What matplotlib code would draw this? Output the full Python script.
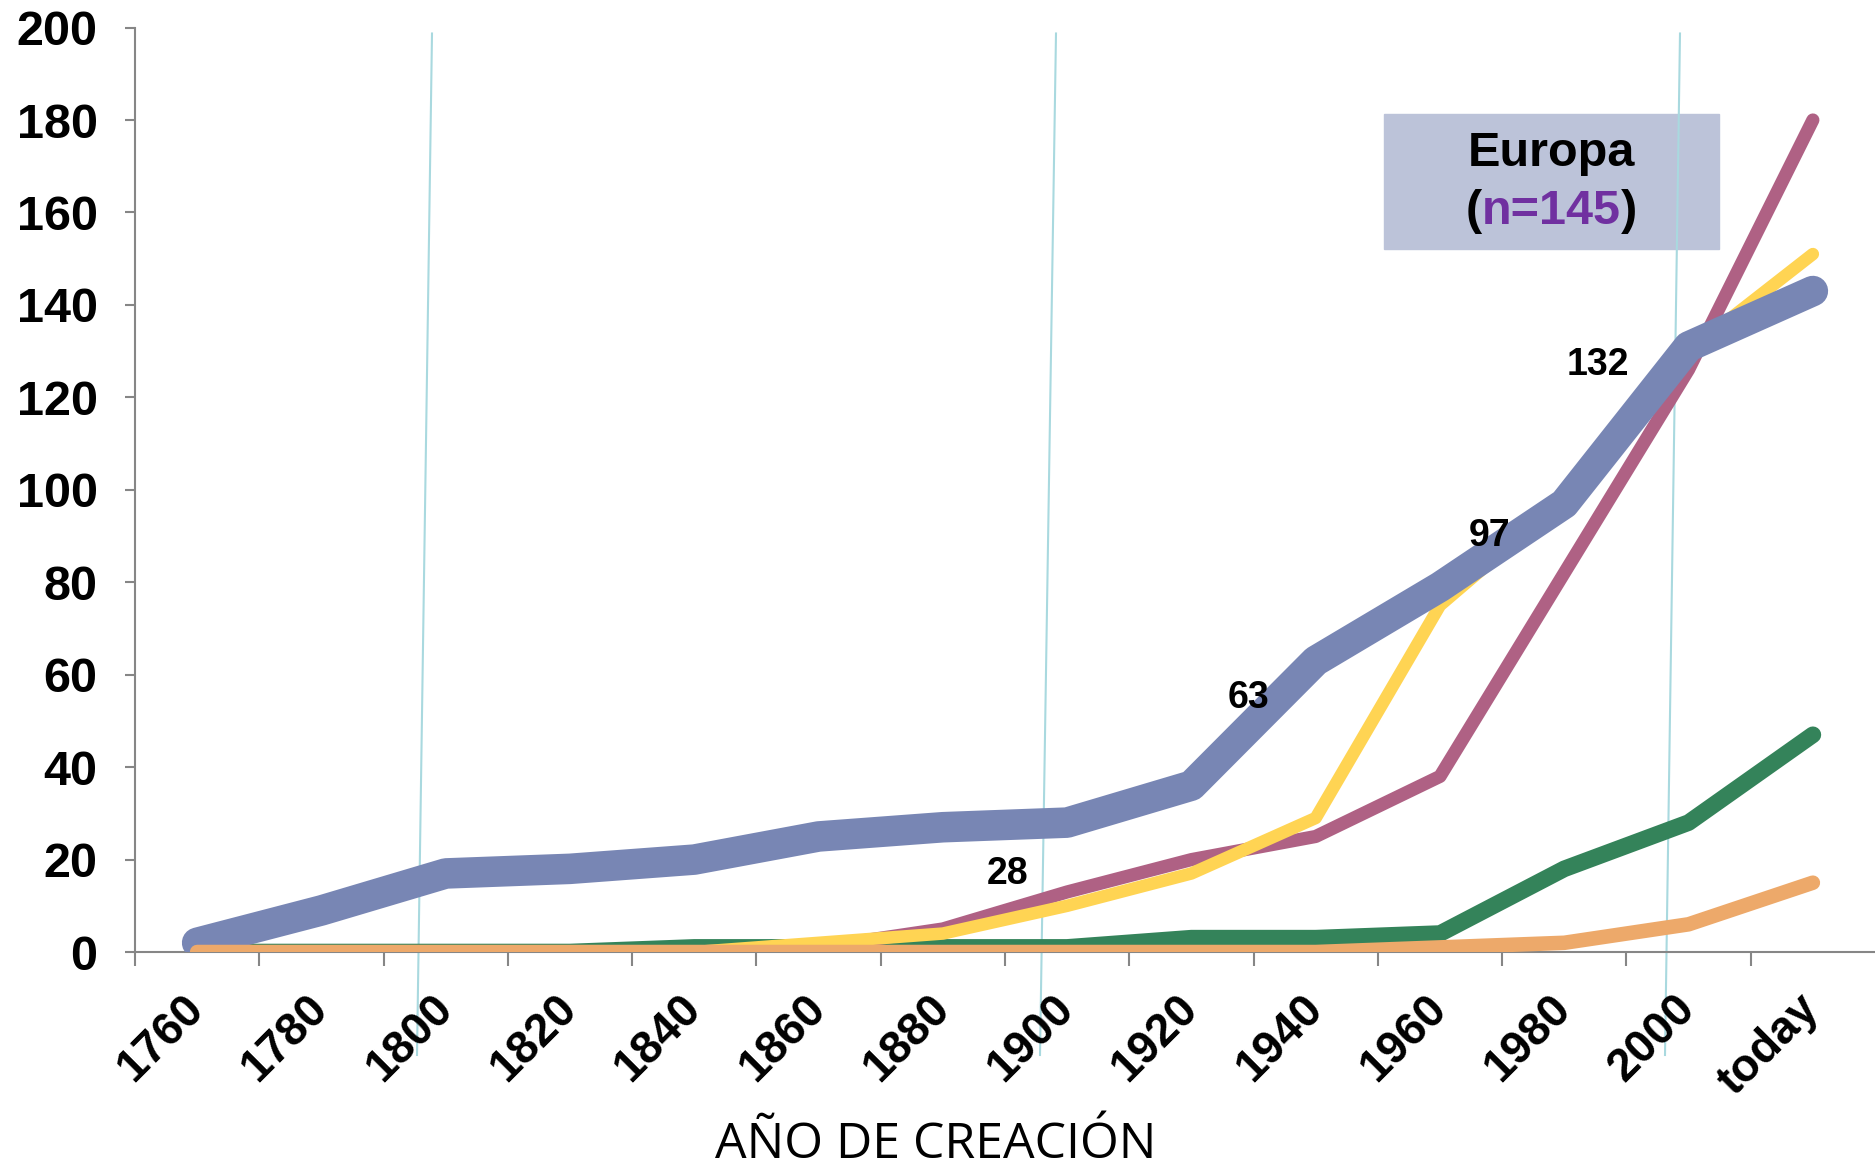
import matplotlib.pyplot as plt
import numpy as np

# categories on the x axis
years = ["1760", "1780", "1800", "1820", "1840", "1860", "1880",
         "1900", "1920", "1940", "1960", "1980", "2000", "today"]

# cumulative counts per series
total = [2, 9, 17, 18, 20, 25, 27, 28, 36, 63, 79, 97, 131, 143]
purple = [0, 0, 0, 0, 0, 1, 5, 13, 20, 25, 38, 82, 126, 180]
yellow = [0, 0, 0, 0, 0, 2, 4, 10, 17, 29, 75, 98, 130, 151]
green = [0, 0, 0, 0, 1, 1, 1, 1, 3, 3, 4, 18, 28, 47]
orange = [0, 0, 0, 0, 0, 0, 0, 0, 0, 0, 1, 2, 6, 15]

# labels on the total line
label_text = ["28", "63", "97", "132"]
label_x = [6.52, 8.46, 10.4, 11.27]
label_y = [16.8, 55, 90, 127]

plt.rcParams['font.family'] = ['Liberation Sans', 'DejaVu Sans']

fig = plt.figure(figsize=(18.75, 11.68), dpi=100)
ax = fig.add_axes([0.072, 0.1849, 0.928, 0.7915])
ax.set_facecolor("none")

x = np.arange(len(years))
ax.plot(x, green, color="#34835A", lw=12, solid_capstyle="round", zorder=2)
ax.plot(x, purple, color="#AF6184", lw=9.5, solid_capstyle="round", zorder=3)
ax.plot(x, yellow, color="#FFD453", lw=9, solid_capstyle="round", zorder=4)
ax.plot(x, total, color="#7886B4", lw=22, solid_capstyle="round", zorder=5)
ax.plot(x, orange, color="#EDA96A", lw=10.5, solid_capstyle="round", zorder=6)

for t, lx, ly in zip(label_text, label_x, label_y):
    ax.text(lx, ly, t, fontsize=27, fontweight="bold", ha="center", va="center", zorder=7)

ax.set_xlim(-0.5, len(years) - 0.5)
ax.set_ylim(0, 200)
ax.set_yticks(np.arange(0, 201, 20))
ax.tick_params(axis="y", labelsize=35, width=1.5, length=7, color="#868686", pad=20)
for lab in ax.get_yticklabels():
    lab.set_fontweight("bold")

ax.set_xticks(np.arange(-0.5, len(years) - 0.5, 1))
ax.set_xticklabels([])
ax.tick_params(axis="x", which="major", width=1.5, length=10, color="#868686")
ax.set_xticks(x, minor=True)
ax.set_xticklabels(years, minor=True, rotation=45, ha="right", va="center",
                   rotation_mode="anchor", fontsize=33, fontweight="bold")
ax.tick_params(axis="x", which="minor", length=0, pad=36)

for s in ["top", "right"]:
    ax.spines[s].set_visible(False)
for s in ["left", "bottom"]:
    ax.spines[s].set_color("#868686")
    ax.spines[s].set_linewidth(1.5)

fig.text(936 / 1875, 1 - 1145 / 1168, "AÑO DE CREACIÓN", fontsize=36,
         family="Open Sans", ha="center", va="center")

# thin slanted guide lines, behind the data lines
for xt, xb in [(432, 417), (1056, 1040), (1680, 1665)]:
    fig.add_artist(plt.Line2D([xt / 1875, xb / 1875], [1 - 33.5 / 1168, 1 - 1055 / 1168],
                              color="#A9D9DF", lw=1.5, zorder=-1))

# title box
fig.patches.append(plt.Rectangle((1384 / 1875, 1 - 249 / 1168), 335 / 1875, 135 / 1168,
                                 transform=fig.transFigure, color="#BCC3D9", zorder=-2))
fig.text(1551 / 1875, 1 - 154 / 1168, "Europa", fontsize=35, fontweight="bold",
         ha="center", va="center")
nt = fig.text(1551 / 1875, 1 - 212 / 1168, "n=145", fontsize=35, fontweight="bold",
              color="#7030A0", ha="center", va="center")
fig.add_artist(plt.Annotation("(", xy=(0, 0.5), xycoords=nt, fontsize=35,
                              fontweight="bold", ha="right", va="center"))
fig.add_artist(plt.Annotation(")", xy=(1, 0.5), xycoords=nt, fontsize=35,
                              fontweight="bold", ha="left", va="center"))

fig.savefig("out.png")
